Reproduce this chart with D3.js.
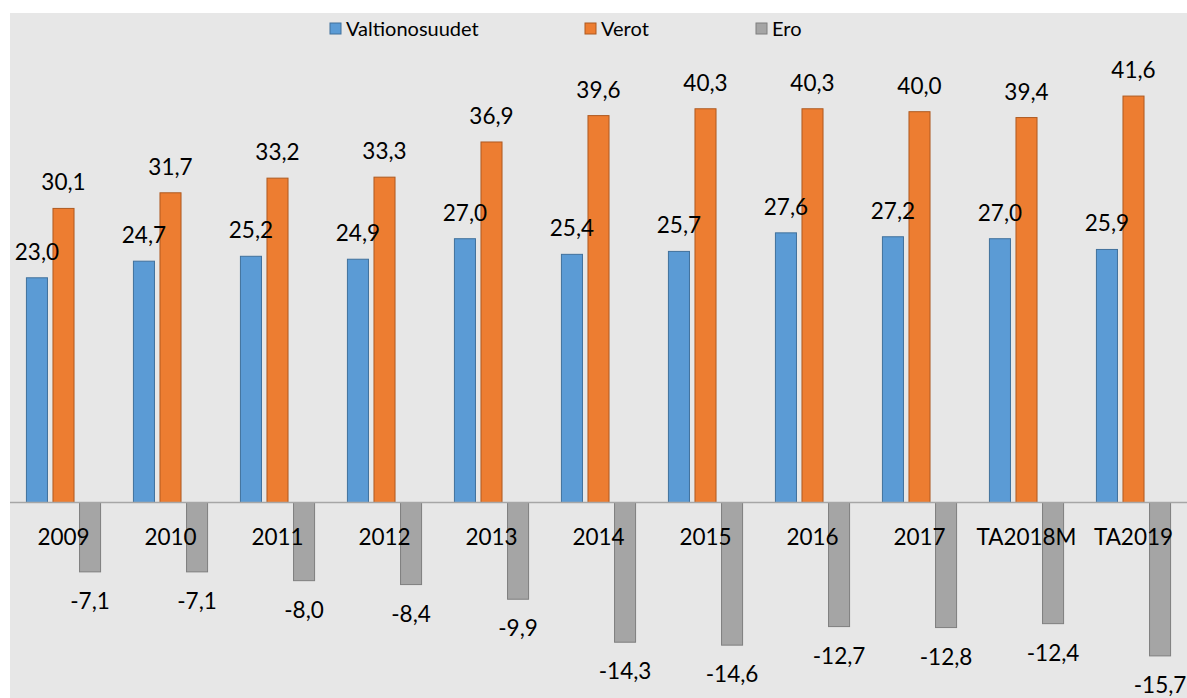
<!DOCTYPE html>
<html>
<head>
<meta charset="utf-8">
<script src="https://cdn.jsdelivr.net/npm/d3@7"></script>
<style>
  body { margin: 0; background: #fff; }
  svg { display: block; font-family: Lato, 'Open Sans', sans-serif; }
</style>
</head>
<body>
<svg id="chart" width="1187" height="698"></svg>
<script>
const categories = ['2009', '2010', '2011', '2012', '2013', '2014', '2015', '2016', '2017', 'TA2018M', 'TA2019']
const seriesNames = ['Valtionosuudet', 'Verot', 'Ero']
const valtionosuudet = [23.0, 24.7, 25.2, 24.9, 27.0, 25.4, 25.7, 27.6, 27.2, 27.0, 25.9]
const verot = [30.1, 31.7, 33.2, 33.3, 36.9, 39.6, 40.3, 40.3, 40.0, 39.4, 41.6]
const ero = [-7.1, -7.1, -8.0, -8.4, -9.9, -14.3, -14.6, -12.7, -12.8, -12.4, -15.7]

const seriesValues = [valtionosuudet, verot, ero]
const fills = ['#5b9bd5', '#ed7d31', '#a5a5a5']
const strokes = ['#41719c', '#ae5a21', '#7f7f7f']

const width = 1187
const height = 698
const svg = d3.select('#chart')

// plot area background
svg.append('rect')
  .attr('x', 10)
  .attr('y', 13)
  .attr('width', width - 10)
  .attr('height', height - 13)
  .attr('fill', '#e7e7e7')

const x0 = d3.scaleBand().domain(categories).range([10, width])
const x1 = d3.scaleBand()
  .domain(seriesNames)
  .range([0, x0.bandwidth()])
  .paddingInner(0.17)
  .paddingOuter(0.6)
const y = d3.scaleLinear().domain([0, 40]).range([502.5, 111.7])

const fmt = (v) => v.toFixed(1).replace('.', ',')

const rows = []
seriesValues.forEach((vals, s) => {
  vals.forEach((v, i) => rows.push({ cat: categories[i], s, v }))
})

const bars = svg.append('g')
bars.selectAll('rect')
  .data(rows)
  .join('rect')
  .attr('x', (d) => x0(d.cat) + x1(seriesNames[d.s]) + 0.5)
  .attr('y', (d) => Math.min(y(d.v), y(0)))
  .attr('width', x1.bandwidth() - 1)
  .attr('height', (d) => Math.abs(y(d.v) - y(0)))
  .attr('fill', (d) => fills[d.s])
  .attr('stroke', (d) => strokes[d.s])
  .attr('stroke-width', 1)

// zero axis
svg.append('line')
  .attr('x1', 10)
  .attr('x2', width)
  .attr('y1', y(0))
  .attr('y2', y(0))
  .attr('stroke', '#a6a6a6')
  .attr('stroke-width', 1.5)

// category labels
svg.append('g')
  .selectAll('text')
  .data(categories)
  .join('text')
  .attr('x', (d) => x0(d) + x0.bandwidth() / 2)
  .attr('y', 545)
  .attr('text-anchor', 'middle')
  .attr('font-size', 22.5)
  .attr('fill', '#000')
  .text((d) => d)

// value labels
svg.append('g')
  .selectAll('text')
  .data(rows)
  .join('text')
  .attr('x', (d) => x0(d.cat) + x1(seriesNames[d.s]) + x1.bandwidth() / 2)
  .attr('y', (d) => (d.v >= 0 ? y(d.v) - 18 : y(d.v) + 37))
  .attr('text-anchor', 'middle')
  .attr('font-size', 22.5)
  .attr('fill', '#000')
  .text((d) => fmt(d.v))

// legend
const legendX = [330, 585, 756]
const legend = svg.append('g')
  .selectAll('g')
  .data(seriesNames)
  .join('g')
  .attr('transform', (d, i) => `translate(${legendX[i]}, 23)`)
legend.append('rect')
  .attr('width', 11)
  .attr('height', 11)
  .attr('fill', (d, i) => fills[i])
  .attr('stroke', (d, i) => strokes[i])
legend.append('text')
  .attr('x', 16)
  .attr('y', 12.5)
  .attr('font-size', 20)
  .attr('fill', '#000')
  .text((d) => d)
</script>
</body>
</html>
